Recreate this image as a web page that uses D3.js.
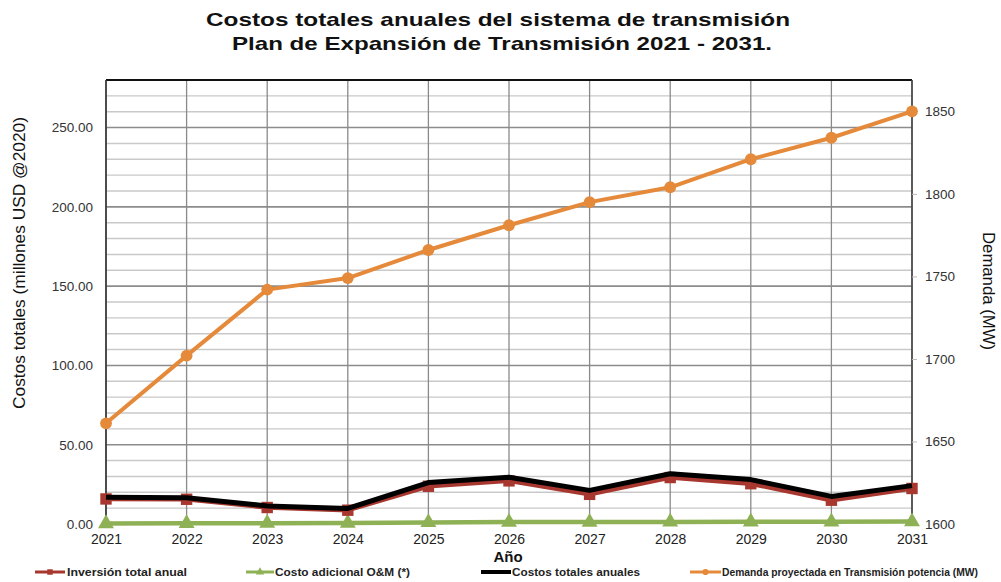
<!DOCTYPE html>
<html>
<head>
<meta charset="utf-8">
<script src="https://cdn.jsdelivr.net/npm/d3@7"></script>
<style>
  html, body { margin: 0; padding: 0; background: #fff; }
  svg { display: block; font-family: "Liberation Sans", Arial, sans-serif; }
</style>
</head>
<body>
<svg id="chart" width="1001" height="582"></svg>
<script>
// Years of the transmission expansion plan
const years = [2021, 2022, 2023, 2024, 2025, 2026, 2027, 2028, 2029, 2030, 2031];

// Annual costs, millions USD @2020 (left axis)
const inversion = [15.8, 15.6, 10.4, 8.7, 23.8, 27.2, 18.7, 29.3, 25.4, 15.0, 22.4];
const costoOM   = [0.3, 0.4, 0.5, 0.6, 1.0, 1.2, 1.2, 1.3, 1.4, 1.4, 1.5];
const costosTotales = [16.9, 16.6, 11.4, 9.8, 26.1, 29.5, 21.2, 31.7, 28.0, 17.4, 24.2];

// Projected transmission demand, MW (right axis)
const demanda = [1661, 1702, 1742, 1749, 1766, 1781, 1795, 1804, 1821, 1834, 1850];

// Axis ticks
const leftTicks = [0, 50, 100, 150, 200, 250];
const rightTicks = [1600, 1650, 1700, 1750, 1800, 1850];

const svg = d3.select("#chart");
const m = { left: 106, right: 912, top: 80, bottom: 524 };

const x = d3.scalePoint().domain(years).range([m.left, m.right]);
const yL = d3.scaleLinear().domain([0, 280]).range([m.bottom, m.top]);
const yR = d3.scaleLinear().domain([1600, 1869]).range([m.bottom, m.top]);

const colors = {
  inv: "#a8382f",
  om: "#8fb155",
  tot: "#000000",
  dem: "#e58a3a"
};

// Title
const title = svg.append("g").attr("font-weight", "bold").attr("fill", "#111").attr("text-anchor", "middle");
title.append("text").attr("x", 498).attr("y", 26).attr("font-size", 19)
  .attr("textLength", 584).attr("lengthAdjust", "spacingAndGlyphs")
  .text("Costos totales anuales del sistema de transmisión");
title.append("text").attr("x", 502).attr("y", 50).attr("font-size", 19)
  .attr("textLength", 540).attr("lengthAdjust", "spacingAndGlyphs")
  .text("Plan de Expansión de Transmisión 2021 - 2031.");

// Horizontal gridlines every 10 units, darker every 50
const grid = svg.append("g");
d3.range(10, 281, 10).forEach(v => {
  const major = v % 50 === 0;
  grid.append("line")
    .attr("x1", m.left).attr("x2", m.right)
    .attr("y1", yL(v)).attr("y2", yL(v))
    .attr("stroke", major ? "#8c8c8c" : "#c9c9c9")
    .attr("stroke-width", major ? 1.6 : 1.4);
});
// Vertical gridlines at every year
years.forEach(yr => {
  grid.append("line")
    .attr("x1", x(yr)).attr("x2", x(yr))
    .attr("y1", m.top).attr("y2", m.bottom)
    .attr("stroke", "#8a8a8a").attr("stroke-width", 1.3);
});
// Frame
grid.append("line").attr("x1", m.left).attr("x2", m.right).attr("y1", m.top).attr("y2", m.top)
  .attr("stroke", "#111").attr("stroke-width", 2);
grid.append("line").attr("x1", m.left).attr("x2", m.left).attr("y1", m.top).attr("y2", m.bottom)
  .attr("stroke", "#333").attr("stroke-width", 1.6);
grid.append("line").attr("x1", m.right).attr("x2", m.right).attr("y1", m.top).attr("y2", m.bottom)
  .attr("stroke", "#444").attr("stroke-width", 1.6);

// Left axis
const axL = svg.append("g").attr("transform", `translate(${m.left},0)`)
  .call(d3.axisLeft(yL).tickValues(leftTicks).tickFormat(d3.format(".2f")).tickSize(0).tickPadding(13));
axL.select(".domain").remove();
axL.selectAll("text").attr("font-size", 13.5).attr("fill", "#333").attr("font-family", "Liberation Sans, Arial, sans-serif");

// Right axis
const axR = svg.append("g").attr("transform", `translate(${m.right},0)`)
  .call(d3.axisRight(yR).tickValues(rightTicks).tickFormat(d3.format("d")).tickSize(5).tickPadding(8));
axR.select(".domain").remove();
axR.selectAll("line").attr("stroke", "#bbb");
axR.selectAll("text").attr("font-size", 13.5).attr("fill", "#333").attr("font-family", "Liberation Sans, Arial, sans-serif");

// Bottom axis
const axB = svg.append("g").attr("transform", `translate(0,${m.bottom})`)
  .call(d3.axisBottom(x).tickSize(0).tickPadding(10));
axB.select(".domain").remove();
axB.selectAll("text").attr("font-size", 14).attr("fill", "#222").attr("font-family", "Liberation Sans, Arial, sans-serif");

// Axis titles
svg.append("text").attr("transform", "translate(25,263) rotate(-90)")
  .attr("text-anchor", "middle").attr("font-size", 16.5).attr("fill", "#111")
  .attr("textLength", 292).attr("lengthAdjust", "spacingAndGlyphs")
  .text("Costos totales (millones USD @2020)");
svg.append("text").attr("transform", "translate(983,291) rotate(90)")
  .attr("text-anchor", "middle").attr("font-size", 16.5).attr("fill", "#111")
  .attr("textLength", 118).attr("lengthAdjust", "spacingAndGlyphs")
  .text("Demanda (MW)");
svg.append("text").attr("x", 508).attr("y", 562)
  .attr("text-anchor", "middle").attr("font-size", 15).attr("font-weight", "bold").attr("fill", "#111")
  .text("Año");

// Series drawing helpers
const plot = svg.append("g");
function drawLine(values, yScale, color, width) {
  plot.append("path")
    .datum(values.map((v, i) => [years[i], v]))
    .attr("fill", "none").attr("stroke", color).attr("stroke-width", width)
    .attr("stroke-linejoin", "round")
    .attr("d", d3.line().x(d => x(d[0])).y(d => yScale(d[1])));
}
const sq = d3.symbol().type(d3.symbolSquare).size(130);
const tri = d3.symbol().type(d3.symbolTriangle).size(110);
const circ = d3.symbol().type(d3.symbolCircle).size(110);
function drawMarkers(values, yScale, color, sym) {
  plot.append("g").selectAll("path").data(values).join("path")
    .attr("transform", (d, i) => `translate(${x(years[i])},${yScale(d)})`)
    .attr("d", sym).attr("fill", color);
}

// Demand (orange, right axis)
drawLine(demanda, yR, colors.dem, 4);
drawMarkers(demanda, yR, colors.dem, circ);

// O&M (green)
drawLine(costoOM, yL, colors.om, 4.5);
drawMarkers(costoOM, yL, colors.om, tri);

// Investment (red squares)
drawLine(inversion, yL, colors.inv, 4.5);
drawMarkers(inversion, yL, colors.inv, sq);

// Total (black, on top)
drawLine(costosTotales, yL, colors.tot, 5);

// Legend
const legendItems = [
  { label: "Inversión total anual", color: colors.inv, sym: d3.symbol().type(d3.symbolSquare).size(30), x: 35, w: 30, tx: 67, tl: 120 },
  { label: "Costo adicional O&M (*)", color: colors.om, sym: d3.symbol().type(d3.symbolTriangle).size(30), x: 246, w: 28, tx: 275, tl: 135 },
  { label: "Costos  totales anuales", color: colors.tot, sym: null, x: 481, w: 30, tx: 512, tl: 128 },
  { label: "Demanda proyectada en Transmisión potencia (MW)", color: colors.dem, sym: d3.symbol().type(d3.symbolCircle).size(30), x: 690, w: 31, tx: 722, tl: 256 }
];
const lg = svg.append("g").attr("transform", "translate(0,572)");
legendItems.forEach(it => {
  lg.append("line").attr("x1", it.x).attr("x2", it.x + it.w).attr("y1", 0).attr("y2", 0)
    .attr("stroke", it.color).attr("stroke-width", it.sym ? 3 : 4);
  if (it.sym) {
    lg.append("path").attr("d", it.sym).attr("transform", `translate(${it.x + it.w / 2},0)`).attr("fill", it.color);
  }
  lg.append("text").attr("x", it.tx).attr("y", 4).attr("font-size", 11).attr("font-weight", "bold")
    .attr("fill", "#222").attr("textLength", it.tl).attr("lengthAdjust", "spacingAndGlyphs")
    .text(it.label);
});
</script>
</body>
</html>
